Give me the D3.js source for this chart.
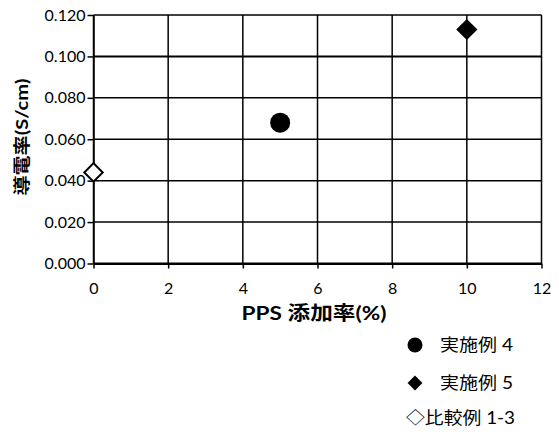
<!DOCTYPE html>
<html>
<head>
<meta charset="utf-8">
<script src="https://cdn.jsdelivr.net/npm/d3@7"></script>
<style>
html,body{margin:0;padding:0;background:#fff;}
svg{display:block;}
text{font-family:"Lato","Open Sans","Noto Sans CJK JP",sans-serif;fill:#000;}
</style>
</head>
<body>
<svg id="chart" width="559" height="437"></svg>
<script>
// data
const seriesNames = ["実施例 4", "実施例 5", "比較例 1-3"];
const seriesX = [5, 10, 0];
const seriesY = [0.068, 0.113, 0.044];
const seriesShape = ["circle", "diamond", "openDiamond"];
const xTicks = [0, 2, 4, 6, 8, 10, 12];
const yTicks = [0, 0.02, 0.04, 0.06, 0.08, 0.1, 0.12];
const xTitle = "PPS 添加率(%)";
const yTitle = "導電率(S/cm)";

const svg = d3.select("#chart");
const m = {left: 93.5, right: 541.5, top: 15, bottom: 263.5};
const x = d3.scaleLinear().domain([0, 12]).range([m.left, m.right]);
const y = d3.scaleLinear().domain([0, 0.12]).range([m.bottom, m.top]);

// gridlines
const g = svg.append("g");
g.selectAll("line.v").data(xTicks).enter().append("line")
  .attr("x1", d => x(d)).attr("x2", d => x(d))
  .attr("y1", m.top).attr("y2", m.bottom)
  .attr("stroke", "#000").attr("stroke-width", 1.5);
g.selectAll("line.h").data(yTicks).enter().append("line")
  .attr("y1", d => y(d)).attr("y2", d => y(d))
  .attr("x1", m.left).attr("x2", m.right)
  .attr("stroke", "#000").attr("stroke-width", d => d === 0 ? 2 : (d === 0.1 ? 2 : 1.5));

// axes
const yAxis = d3.axisLeft(y).tickValues(yTicks).tickFormat(d3.format(".3f")).tickSize(6).tickSizeOuter(0);
const ya = svg.append("g").attr("transform", `translate(${m.left},0)`).call(yAxis);
ya.select(".domain").attr("stroke", "#000").attr("stroke-width", 1.5);
ya.selectAll(".tick line").attr("stroke", "#000").attr("stroke-width", 1.5);
ya.selectAll(".tick text").attr("font-size", 16).attr("x", -8).attr("font-family", "Lato, sans-serif");

const xAxis = d3.axisBottom(x).tickValues(xTicks).tickFormat(d3.format("d")).tickSize(5).tickSizeOuter(0);
const xa = svg.append("g").attr("transform", `translate(0,${m.bottom})`).call(xAxis);
xa.select(".domain").attr("stroke", "#000").attr("stroke-width", 2);
xa.selectAll(".tick line").attr("stroke", "#000").attr("stroke-width", 1.5);
xa.selectAll(".tick text").attr("font-size", 16).attr("y", 19).attr("font-family", "Lato, sans-serif");

// titles
svg.append("text").attr("x", 314).attr("y", 320).attr("text-anchor", "middle")
  .attr("font-size", 19).attr("font-weight", "bold")
  .attr("textLength", 145).attr("lengthAdjust", "spacingAndGlyphs")
  .attr("font-family", "'Noto Sans CJK JP', sans-serif").text(xTitle);
svg.append("text").attr("transform", `translate(28,137) rotate(-90)`).attr("text-anchor", "middle")
  .attr("font-size", 17).attr("font-weight", "bold")
  .attr("textLength", 117).attr("lengthAdjust", "spacingAndGlyphs")
  .attr("font-family", "'Noto Sans CJK JP', sans-serif").text(yTitle);

// marks
const sym = {
  circle: d3.symbol().type(d3.symbolCircle).size(Math.PI * 10 * 10),
  diamond: d3.symbol().type(d3.symbolSquare).size(15 * 15),
  openDiamond: d3.symbol().type(d3.symbolSquare).size(13 * 13)
};
const pts = seriesNames.map((n, i) => ({name: n, x: seriesX[i], y: seriesY[i], shape: seriesShape[i]}));
svg.append("g").selectAll("path").data(pts).enter().append("path")
  .attr("d", d => sym[d.shape]())
  .attr("transform", d => `translate(${x(d.x)},${y(d.y)})` + (d.shape === "circle" ? "" : " rotate(45)"))
  .attr("fill", d => d.shape === "openDiamond" ? "#fff" : "#000")
  .attr("stroke", "#000")
  .attr("stroke-width", d => d.shape === "openDiamond" ? 2 : 0);

// legend
const legY = [345, 383, 418];
const leg = svg.append("g");
pts.forEach((d, i) => {
  if (d.shape === "openDiamond") {
    leg.append("text").attr("x", 406).attr("y", legY[i]).attr("dy", "0.36em")
      .attr("font-size", 17).attr("font-family", "'Noto Sans CJK JP', sans-serif")
      .attr("textLength", 109).attr("lengthAdjust", "spacingAndGlyphs")
      .text("◇" + d.name);
  } else {
    const s = d.shape === "circle" ? d3.symbol().type(d3.symbolCircle).size(Math.PI * 7.5 * 7.5)
                                   : d3.symbol().type(d3.symbolSquare).size(10.5 * 10.5);
    leg.append("path").attr("d", s())
      .attr("transform", `translate(415,${legY[i]})` + (d.shape === "circle" ? "" : " rotate(45)"))
      .attr("fill", "#000");
    leg.append("text").attr("x", 440).attr("y", legY[i]).attr("dy", "0.36em")
      .attr("font-size", 17).attr("font-family", "'Noto Sans CJK JP', sans-serif")
      .attr("textLength", 73).attr("lengthAdjust", "spacingAndGlyphs")
      .text(d.name);
  }
});
</script>
</body>
</html>
